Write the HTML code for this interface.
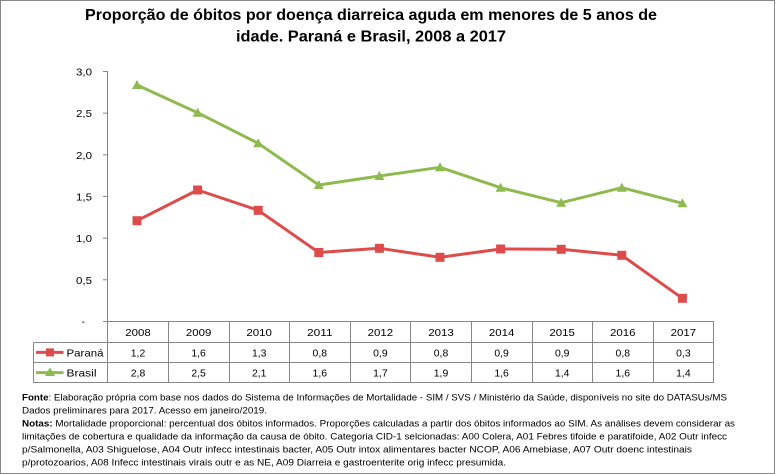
<!DOCTYPE html>
<html>
<head>
<meta charset="utf-8">
<style>
html,body{margin:0;padding:0;background:#fff;}
svg{display:block;}
text{font-family:"Liberation Sans",Arial,sans-serif;fill:#000;}
</style>
</head>
<body>
<svg width="776" height="474" viewBox="0 0 776 474" xmlns="http://www.w3.org/2000/svg">
<rect x="0" y="0" width="776" height="474" fill="#fff"/>
<rect x="0.5" y="0.5" width="774" height="473" fill="none" stroke="#888" stroke-width="1"/>

<!-- Title -->
<text x="85" y="20" font-size="16" font-weight="bold" textLength="572" lengthAdjust="spacingAndGlyphs">Proporção de óbitos por doença diarreica aguda em menores de 5 anos de</text>
<text x="236" y="41.5" font-size="16" font-weight="bold" textLength="270" lengthAdjust="spacingAndGlyphs">idade. Paraná e Brasil, 2008 a 2017</text>

<!-- Y axis -->
<g stroke="#868686" stroke-width="1" fill="none">
<line x1="107.5" y1="71.5" x2="107.5" y2="383"/>
<line x1="103" y1="71.5" x2="108" y2="71.5"/>
<line x1="103" y1="113.2" x2="108" y2="113.2"/>
<line x1="103" y1="154.8" x2="108" y2="154.8"/>
<line x1="103" y1="196.5" x2="108" y2="196.5"/>
<line x1="103" y1="238.2" x2="108" y2="238.2"/>
<line x1="103" y1="279.8" x2="108" y2="279.8"/>
</g>
<g font-size="10.5" text-anchor="end">
<text x="92" y="75.5" textLength="16" lengthAdjust="spacingAndGlyphs">3,0</text>
<text x="92" y="117.2" textLength="16" lengthAdjust="spacingAndGlyphs">2,5</text>
<text x="92" y="158.8" textLength="16" lengthAdjust="spacingAndGlyphs">2,0</text>
<text x="92" y="200.5" textLength="16" lengthAdjust="spacingAndGlyphs">1,5</text>
<text x="92" y="242.2" textLength="16" lengthAdjust="spacingAndGlyphs">1,0</text>
<text x="92" y="283.8" textLength="16" lengthAdjust="spacingAndGlyphs">0,5</text>
</g>
<text x="81.5" y="325" font-size="10.5">-</text>

<!-- Table lines -->
<g stroke="#888" stroke-width="1" fill="none">
<line x1="103" y1="321.5" x2="714" y2="321.5"/>
<line x1="33.5" y1="342.5" x2="714" y2="342.5"/>
<line x1="33.5" y1="362.5" x2="714" y2="362.5"/>
<line x1="33.5" y1="382.5" x2="714" y2="382.5"/>
<line x1="33.5" y1="342.5" x2="33.5" y2="383"/>
<line x1="168.5" y1="321.5" x2="168.5" y2="383"/>
<line x1="229.5" y1="321.5" x2="229.5" y2="383"/>
<line x1="289.5" y1="321.5" x2="289.5" y2="383"/>
<line x1="350.5" y1="321.5" x2="350.5" y2="383"/>
<line x1="410.5" y1="321.5" x2="410.5" y2="383"/>
<line x1="471.5" y1="321.5" x2="471.5" y2="383"/>
<line x1="532.5" y1="321.5" x2="532.5" y2="383"/>
<line x1="592.5" y1="321.5" x2="592.5" y2="383"/>
<line x1="653.5" y1="321.5" x2="653.5" y2="383"/>
<line x1="713.5" y1="321.5" x2="713.5" y2="383"/>
</g>

<!-- Table text -->
<g font-size="10.5" text-anchor="middle">
<text x="138" y="336" textLength="25.5" lengthAdjust="spacingAndGlyphs">2008</text>
<text x="198.6" y="336" textLength="25.5" lengthAdjust="spacingAndGlyphs">2009</text>
<text x="259.2" y="336" textLength="25.5" lengthAdjust="spacingAndGlyphs">2010</text>
<text x="319.8" y="336" textLength="25.5" lengthAdjust="spacingAndGlyphs">2011</text>
<text x="380.4" y="336" textLength="25.5" lengthAdjust="spacingAndGlyphs">2012</text>
<text x="441" y="336" textLength="25.5" lengthAdjust="spacingAndGlyphs">2013</text>
<text x="501.6" y="336" textLength="25.5" lengthAdjust="spacingAndGlyphs">2014</text>
<text x="562.2" y="336" textLength="25.5" lengthAdjust="spacingAndGlyphs">2015</text>
<text x="622.8" y="336" textLength="25.5" lengthAdjust="spacingAndGlyphs">2016</text>
<text x="683.4" y="336" textLength="25.5" lengthAdjust="spacingAndGlyphs">2017</text>

<text x="138" y="356.3" textLength="14.5" lengthAdjust="spacingAndGlyphs">1,2</text>
<text x="198.6" y="356.3" textLength="14.5" lengthAdjust="spacingAndGlyphs">1,6</text>
<text x="259.2" y="356.3" textLength="14.5" lengthAdjust="spacingAndGlyphs">1,3</text>
<text x="319.8" y="356.3" textLength="14.5" lengthAdjust="spacingAndGlyphs">0,8</text>
<text x="380.4" y="356.3" textLength="14.5" lengthAdjust="spacingAndGlyphs">0,9</text>
<text x="441" y="356.3" textLength="14.5" lengthAdjust="spacingAndGlyphs">0,8</text>
<text x="501.6" y="356.3" textLength="14.5" lengthAdjust="spacingAndGlyphs">0,9</text>
<text x="562.2" y="356.3" textLength="14.5" lengthAdjust="spacingAndGlyphs">0,9</text>
<text x="622.8" y="356.3" textLength="14.5" lengthAdjust="spacingAndGlyphs">0,8</text>
<text x="683.4" y="356.3" textLength="14.5" lengthAdjust="spacingAndGlyphs">0,3</text>

<text x="138" y="376.3" textLength="14.5" lengthAdjust="spacingAndGlyphs">2,8</text>
<text x="198.6" y="376.3" textLength="14.5" lengthAdjust="spacingAndGlyphs">2,5</text>
<text x="259.2" y="376.3" textLength="14.5" lengthAdjust="spacingAndGlyphs">2,1</text>
<text x="319.8" y="376.3" textLength="14.5" lengthAdjust="spacingAndGlyphs">1,6</text>
<text x="380.4" y="376.3" textLength="14.5" lengthAdjust="spacingAndGlyphs">1,7</text>
<text x="441" y="376.3" textLength="14.5" lengthAdjust="spacingAndGlyphs">1,9</text>
<text x="501.6" y="376.3" textLength="14.5" lengthAdjust="spacingAndGlyphs">1,6</text>
<text x="562.2" y="376.3" textLength="14.5" lengthAdjust="spacingAndGlyphs">1,4</text>
<text x="622.8" y="376.3" textLength="14.5" lengthAdjust="spacingAndGlyphs">1,6</text>
<text x="683.4" y="376.3" textLength="14.5" lengthAdjust="spacingAndGlyphs">1,4</text>
</g>

<!-- Legend in table -->
<line x1="36" y1="352.4" x2="63.5" y2="352.4" stroke="#DD4B4B" stroke-width="3"/>
<rect x="46" y="348.4" width="8" height="8" fill="#DD4B4B"/>
<text x="66.5" y="356.3" font-size="10.5" textLength="37" lengthAdjust="spacingAndGlyphs">Paraná</text>
<line x1="36" y1="372.6" x2="63.5" y2="372.6" stroke="#8EBA4F" stroke-width="3"/>
<polygon points="50,367.5 55,376 45,376" fill="#8EBA4F"/>
<text x="66.5" y="376.3" font-size="10.5" textLength="30" lengthAdjust="spacingAndGlyphs">Brasil</text>

<!-- Series: Brasil -->
<polyline fill="none" stroke="#8EBA4F" stroke-width="3" stroke-linejoin="round"
 points="137,85 197.6,112.7 258.2,143.3 318.8,185 379.4,176 440,167.3 500.6,187.7 561.2,202.7 621.8,187.7 682.4,203.3"/>
<g fill="#8EBA4F">
<polygon points="137,80 142,89 132,89"/>
<polygon points="197.6,107.7 202.6,116.7 192.6,116.7"/>
<polygon points="258.2,138.3 263.2,147.3 253.2,147.3"/>
<polygon points="318.8,180 323.8,189 313.8,189"/>
<polygon points="379.4,171 384.4,180 374.4,180"/>
<polygon points="440,162.3 445,171.3 435,171.3"/>
<polygon points="500.6,182.7 505.6,191.7 495.6,191.7"/>
<polygon points="561.2,197.7 566.2,206.7 556.2,206.7"/>
<polygon points="621.8,182.7 626.8,191.7 616.8,191.7"/>
<polygon points="682.4,198.3 687.4,207.3 677.4,207.3"/>
</g>

<!-- Series: Paraná -->
<polyline fill="none" stroke="#DD4B4B" stroke-width="3" stroke-linejoin="round"
 points="137,220.7 197.6,190 258.2,210.3 318.8,252.5 379.4,248.3 440,257.3 500.6,249 561.2,249.3 621.8,255.3 682.4,298.3"/>
<g fill="#DD4B4B">
<rect x="132.5" y="216.2" width="9" height="9"/>
<rect x="193.1" y="185.5" width="9" height="9"/>
<rect x="253.7" y="205.8" width="9" height="9"/>
<rect x="314.3" y="248" width="9" height="9"/>
<rect x="374.9" y="243.8" width="9" height="9"/>
<rect x="435.5" y="252.8" width="9" height="9"/>
<rect x="496.1" y="244.5" width="9" height="9"/>
<rect x="556.7" y="244.8" width="9" height="9"/>
<rect x="617.3" y="250.8" width="9" height="9"/>
<rect x="677.9" y="293.8" width="9" height="9"/>
</g>

<!-- Notes -->
<g font-size="9.5">
<text x="22" y="400.3" textLength="705" lengthAdjust="spacingAndGlyphs"><tspan font-weight="bold">Fonte</tspan>: Elaboração própria  com base nos dados do Sistema de Informações de Mortalidade - SIM / SVS / Ministério  da Saúde,  disponíveis no site do DATASUs/MS</text>
<text x="22" y="413.3" textLength="245" lengthAdjust="spacingAndGlyphs">Dados preliminares para 2017. Acesso em janeiro/2019.</text>
<text x="22" y="426.3" textLength="713" lengthAdjust="spacingAndGlyphs"><tspan font-weight="bold">Notas:</tspan>  Mortalidade proporcional: percentual dos óbitos informados.  Proporções calculadas a partir dos óbitos informados ao SIM. As análises devem considerar as</text>
<text x="22" y="439.3" textLength="705" lengthAdjust="spacingAndGlyphs">limitações de cobertura e qualidade da informação da causa de óbito. Categoria CID-1 selcionadas: A00  Colera, A01  Febres tifoide e paratifoide, A02  Outr infecc</text>
<text x="22" y="452.3" textLength="670" lengthAdjust="spacingAndGlyphs">p/Salmonella, A03  Shiguelose, A04 Outr infecc intestinais bacter, A05  Outr intox alimentares bacter NCOP, A06  Amebiase, A07  Outr doenc intestinais</text>
<text x="22" y="465.3" textLength="484" lengthAdjust="spacingAndGlyphs">p/protozoarios, A08  Infecc intestinais virais outr e as NE, A09  Diarreia e gastroenterite orig infecc presumida.</text>
</g>
</svg>
</body>
</html>
